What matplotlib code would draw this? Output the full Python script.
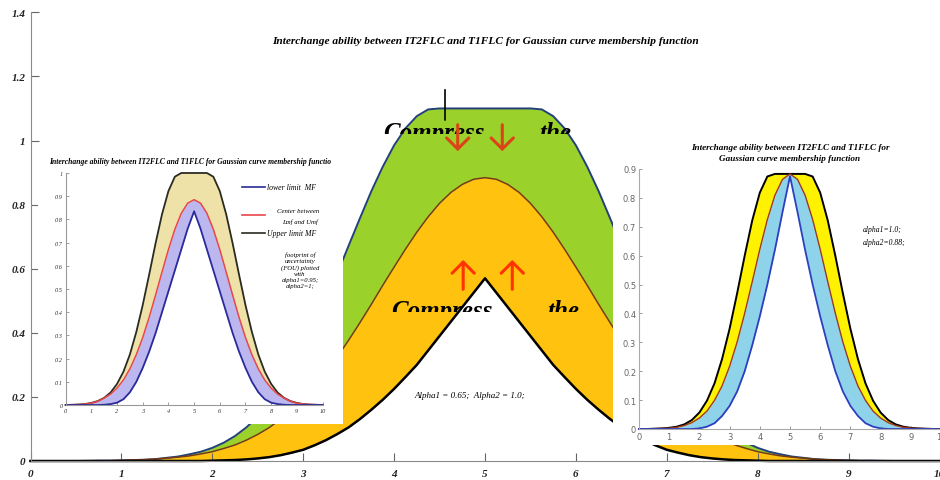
import matplotlib
matplotlib.use('Agg')
import matplotlib.pyplot as plt
from matplotlib.patches import Rectangle
from matplotlib.lines import Line2D
from matplotlib.transforms import Affine2D, Bbox, TransformedBbox

# main chart x grid (finer near the peak)
main_x = [0, 0.5, 0.75, 0.875, 1, 1.125, 1.25, 1.375, 1.5, 1.625, 1.75, 1.875, 2, 2.125,
          2.25, 2.375, 2.5, 2.625, 2.75, 2.875, 3, 3.125, 3.25, 3.375, 3.5, 3.625, 3.75,
          3.875, 4, 4.125, 4.25, 4.375, 4.5, 4.625, 4.75, 4.875, 5, 5.125, 5.25, 5.375,
          5.5, 5.625, 5.75, 5.875, 6, 6.125, 6.25, 6.375, 6.5, 6.625, 6.75, 6.875, 7,
          7.125, 7.25, 7.375, 7.5, 7.625, 7.75, 7.875, 8, 8.125, 8.25, 8.375, 8.5, 8.625,
          8.75, 8.875, 9, 9.125, 9.25, 9.5, 10]

# main chart: alpha1 = 0.65, alpha2 = 1.0
main_upper = [0, 0,
              0.001, 0.001, 0.002, 0.003, 0.004, 0.006, 0.010, 0.014, 0.021, 0.029,
              0.041, 0.057, 0.078, 0.105, 0.138, 0.178, 0.227, 0.284, 0.349, 0.422,
              0.501, 0.585, 0.672, 0.758, 0.842, 0.918, 0.985, 1.038, 1.076, 1.097,
              1.1, 1.1, 1.1, 1.1,
              1.1,
              1.1, 1.1, 1.1, 1.1,
              1.097, 1.076, 1.038, 0.985, 0.918, 0.842, 0.758, 0.672, 0.585, 0.501,
              0.422, 0.349, 0.284, 0.227, 0.178, 0.138, 0.105, 0.078, 0.057, 0.041,
              0.029, 0.021, 0.014, 0.010, 0.006, 0.004, 0.003, 0.002, 0.001, 0.001,
              0, 0]
main_center = [0, 0,
               0.001, 0.001, 0.002, 0.003, 0.004, 0.006, 0.009, 0.012, 0.016, 0.022,
               0.029, 0.039, 0.050, 0.065, 0.083, 0.104, 0.130, 0.160, 0.194, 0.233,
               0.277, 0.325, 0.377, 0.432, 0.489, 0.548, 0.605, 0.661, 0.714, 0.762,
               0.804, 0.838, 0.863, 0.879,
               0.884,
               0.879, 0.863, 0.838, 0.804,
               0.762, 0.714, 0.661, 0.605, 0.548, 0.489, 0.432, 0.377, 0.325, 0.277,
               0.233, 0.194, 0.160, 0.130, 0.104, 0.083, 0.065, 0.050, 0.039, 0.029,
               0.022, 0.016, 0.012, 0.009, 0.006, 0.004, 0.003, 0.002, 0.001, 0.001,
               0, 0]
main_lower = [0, 0,
              0, 0, 0, 0, 0, 0, 0, 0, 0, 0,
              0.001, 0.002, 0.003, 0.005, 0.008, 0.012, 0.018, 0.026, 0.035, 0.049,
              0.065, 0.084, 0.105, 0.131, 0.160, 0.191, 0.225, 0.262, 0.300, 0.345,
              0.390, 0.435, 0.480, 0.525,
              0.570,
              0.525, 0.480, 0.435, 0.390,
              0.345, 0.300, 0.262, 0.225, 0.191, 0.160, 0.131, 0.105, 0.084, 0.065,
              0.049, 0.035, 0.026, 0.018, 0.012, 0.008, 0.005, 0.003, 0.002, 0.001,
              0, 0, 0, 0, 0, 0, 0, 0, 0, 0,
              0, 0]

# inset x grid (0..10)
x = [0, 0.25, 0.5, 0.75, 1, 1.25, 1.5, 1.75, 2, 2.25, 2.5, 2.75, 3, 3.25, 3.5, 3.75,
     4, 4.25, 4.5, 4.75, 5, 5.25, 5.5, 5.75, 6, 6.25, 6.5, 6.75, 7, 7.25, 7.5, 7.75,
     8, 8.25, 8.5, 8.75, 9, 9.25, 9.5, 9.75, 10]

# left inset: alpha1 = 0.95, alpha2 = 1
left_upper = [0, 0.001, 0.002, 0.004, 0.009, 0.017, 0.031, 0.054, 0.091, 0.144, 0.218, 0.315,
              0.431, 0.562, 0.697, 0.822, 0.922, 0.984, 1.0, 1.0, 1.0, 1.0, 1.0, 0.984, 0.922,
              0.822, 0.697, 0.562, 0.431, 0.315, 0.218, 0.144, 0.091, 0.054, 0.031, 0.017,
              0.009, 0.004, 0.002, 0.001, 0]
left_center = [0, 0.001, 0.002, 0.004, 0.008, 0.016, 0.030, 0.047, 0.073, 0.108, 0.156, 0.217,
               0.291, 0.378, 0.474, 0.573, 0.670, 0.757, 0.826, 0.870, 0.885, 0.870, 0.826,
               0.757, 0.670, 0.573, 0.474, 0.378, 0.291, 0.217, 0.156, 0.108, 0.073, 0.047,
               0.030, 0.016, 0.008, 0.004, 0.002, 0.001, 0]
left_lower = [0, 0, 0, 0, 0, 0, 0.001, 0.004, 0.010, 0.025, 0.055, 0.100, 0.160, 0.230, 0.310,
              0.400, 0.490, 0.580, 0.670, 0.760, 0.835, 0.760, 0.670, 0.580, 0.490, 0.400,
              0.310, 0.230, 0.160, 0.100, 0.055, 0.025, 0.010, 0.004, 0.001, 0, 0, 0, 0, 0, 0]

# right inset: alpha1 = 1.0, alpha2 = 0.88
right_upper = [0, 0, 0.001, 0.002, 0.004, 0.008, 0.016, 0.031, 0.057, 0.098, 0.158, 0.242,
               0.347, 0.470, 0.600, 0.722, 0.818, 0.874, 0.883, 0.883, 0.883, 0.883, 0.883,
               0.874, 0.818, 0.722, 0.600, 0.470, 0.347, 0.242, 0.158, 0.098, 0.057, 0.031,
               0.016, 0.008, 0.004, 0.002, 0.001, 0, 0]
right_center = [0, 0, 0.001, 0.002, 0.003, 0.006, 0.012, 0.022, 0.038, 0.062, 0.099, 0.149,
                0.217, 0.301, 0.401, 0.510, 0.622, 0.725, 0.809, 0.864, 0.883, 0.864, 0.809,
                0.725, 0.622, 0.510, 0.401, 0.301, 0.217, 0.149, 0.099, 0.062, 0.038, 0.022,
                0.012, 0.006, 0.003, 0.002, 0.001, 0, 0]
right_lower = [0, 0, 0, 0, 0, 0, 0, 0, 0.002, 0.008, 0.020, 0.045, 0.080, 0.130, 0.200, 0.290,
               0.390, 0.500, 0.620, 0.750, 0.875, 0.750, 0.620, 0.500, 0.390, 0.290, 0.200,
               0.130, 0.080, 0.045, 0.020, 0.008, 0.002, 0, 0, 0, 0, 0, 0, 0, 0]

main_yticks = [0, 0.2, 0.4, 0.6, 0.8, 1.0, 1.2, 1.4]
main_ylabels = ['0', '0.2', '0.4', '0.6', '0.8', '1', '1.2', '1.4']
inset_yticks = [0, 0.1, 0.2, 0.3, 0.4, 0.5, 0.6, 0.7, 0.8, 0.9, 1.0]
inset_ylabels = ['0', '0.1', '0.2', '0.3', '0.4', '0.5', '0.6', '0.7', '0.8', '0.9', '1']
xticks = list(range(11))

title = 'Interchange ability between IT2FLC and T1FLC for Gaussian curve membership function'
SERIF = 'Liberation Serif'

fig = plt.figure(figsize=(9.4, 4.81), dpi=100)
# pixel coordinates (origin top-left) for the pasted-on pieces
px = Affine2D().scale(1 / 940, -1 / 481).translate(0, 1) + fig.transFigure

# ---------------- main chart ----------------
ax = fig.add_axes([30.5 / 940, 19 / 481, 909 / 940, 448.7 / 481], zorder=0)
ax.set_xlim(0, 10)
ax.set_ylim(0, 1.4)
ax.fill_between(main_x, main_lower, main_center, color='#ffc20e', lw=0)
ax.fill_between(main_x, main_center, main_upper, color='#9bd12b', lw=0)
ax.plot(main_x, main_upper, color='#23407a', lw=1.4, clip_on=False)
ax.plot(main_x, main_center, color='#7a3b12', lw=1.1, clip_on=False)
ax.plot(main_x, main_lower, color='black', lw=1.8, clip_on=False)

for s in ['top', 'right']:
    ax.spines[s].set_visible(False)
for s in ['left', 'bottom']:
    ax.spines[s].set_color('#8a8a8a')
ax.set_xticks(xticks)
ax.set_xticklabels([str(t) for t in xticks])
ax.set_yticks(main_yticks)
ax.set_yticklabels(main_ylabels)
ax.tick_params(direction='in', length=6, width=0.8, color='#666', labelsize=8)
ax.tick_params(axis='x', pad=6)
for lab in ax.get_xticklabels() + ax.get_yticklabels():
    lab.set_fontfamily(SERIF)
    lab.set_style('italic')
    lab.set_weight('bold')
    lab.set_color('#222')

ax.text(5.0, 1.313, title, ha='center', va='center', fontsize=8.2,
        family=SERIF, style='italic', weight='bold')
ax.text(4.83, 0.206, 'Alpha1 = 0.65;  Alpha2 = 1.0;', ha='center', va='center',
        fontsize=6.5, family=SERIF, style='italic')

# big "Compress ... the" captions, lower half cut away
for y0, cut, xs in [(1.005, 1.02, (3.88, 5.6)), (0.449, 0.465, (3.97, 5.69))]:
    box = TransformedBbox(Bbox([[0, cut], [10, 1.4]]), ax.transData)
    for xx, word in zip(xs, ['Compress', 'the']):
        t = ax.text(xx, y0, word, fontsize=18, family=SERIF, style='italic',
                    weight='bold', va='baseline', ha='left')
        t.set_clip_on(True)
        t.set_clip_path(None)
        t.set_clip_box(box)

ax.annotate('', xy=(4.56, 1.055), xytext=(4.56, 1.167),
            arrowprops=dict(arrowstyle='-', color='black', lw=1.2))
for xx in [4.70, 5.19]:
    ax.annotate('', xy=(xx, 0.958), xytext=(xx, 1.058),
                arrowprops=dict(arrowstyle='->,head_length=0.4,head_width=0.4',
                                mutation_scale=20, color='#dc4317', lw=2.2))
for xx in [4.76, 5.30]:
    ax.annotate('', xy=(xx, 0.636), xytext=(xx, 0.527),
                arrowprops=dict(arrowstyle='->,head_length=0.4,head_width=0.4',
                                mutation_scale=20, color='#ff3300', lw=2.2))

# white patches the insets were pasted on
fig.add_artist(Rectangle((38, 150), 305, 275, transform=px, facecolor='white',
                         edgecolor='none', zorder=1))
fig.add_artist(Rectangle((613, 125), 330, 321, transform=px, facecolor='white',
                         edgecolor='none', zorder=1))

# ---------------- left inset ----------------
axl = fig.add_axes([65.7 / 940, 75 / 481, 256.8 / 940, 232 / 481], zorder=2)
axl.patch.set_visible(False)
axl.set_xlim(0, 10)
axl.set_ylim(0, 1)
axl.fill_between(x, left_center, left_upper, color='#efe2a8', lw=0)
axl.fill_between(x, left_lower, left_center, color='#bdb7f0', lw=0)
axl.plot(x, left_upper, color='#2b2b22', lw=1.3, clip_on=False)
axl.plot(x, left_center, color='#e8474a', lw=1.1, clip_on=False)
axl.plot(x, left_lower, color='#2a2a9a', lw=1.3, clip_on=False)
for s in ['top', 'right']:
    axl.spines[s].set_visible(False)
for s in ['left', 'bottom']:
    axl.spines[s].set_color('#999')
    axl.spines[s].set_linewidth(0.8)
axl.set_xticks(xticks)
axl.set_xticklabels([str(t) for t in xticks])
axl.set_yticks(inset_yticks)
axl.set_yticklabels(inset_ylabels)
axl.tick_params(direction='in', length=2, width=0.5, color='#777', labelsize=4.5, pad=2)
for lab in axl.get_xticklabels() + axl.get_yticklabels():
    lab.set_fontfamily(SERIF)
    lab.set_style('italic')
    lab.set_color('#333')

fig.text(190, 162, title[:-1], transform=px, ha='center', va='center', fontsize=5.5,
         family=SERIF, style='italic', weight='bold', zorder=3)
leg_font = dict(transform=px, family=SERIF, style='italic', zorder=3)
fig.add_artist(Line2D([242, 265], [188, 188], transform=px, color='#2a2a9a', lw=1.2, zorder=3))
fig.text(267, 188, 'lower limit  MF', ha='left', va='center', fontsize=5.6, **leg_font)
fig.add_artist(Line2D([242, 265], [216, 216], transform=px, color='#e8474a', lw=1.2, zorder=3))
fig.text(298, 212, 'Center between', ha='center', va='center', fontsize=4.9, **leg_font)
fig.text(300, 222, 'Lmf and Umf', ha='center', va='center', fontsize=4.9, **leg_font)
fig.add_artist(Line2D([242, 265], [234, 234], transform=px, color='#2b2b22', lw=1.2, zorder=3))
fig.text(267, 234, 'Upper limit MF', ha='left', va='center', fontsize=5.6, **leg_font)
fig.text(300, 271, 'footprint of\nuncertainty\n(FOU) plotted\nwith\nalpha1=0.95;\nalpha2=1;',
         ha='center', va='center', linespacing=1.25, fontsize=4.8, **leg_font)

# ---------------- right inset ----------------
axr = fig.add_axes([639 / 940, 51 / 481, 302 / 940, 260 / 481], zorder=2)
axr.patch.set_visible(False)
axr.set_xlim(0, 10)
axr.set_ylim(0, 0.9)
axr.fill_between(x, right_center, right_upper, color='#fff200', lw=0)
axr.fill_between(x, right_lower, right_center, color='#8fd3ea', lw=0)
axr.plot(x, right_upper, color='black', lw=1.4, clip_on=False)
axr.plot(x, right_center, color='#a0381c', lw=1.0, clip_on=False)
axr.plot(x, right_lower, color='#2b3fc0', lw=1.3, clip_on=False)
for s in ['top', 'right']:
    axr.spines[s].set_visible(False)
for s in ['left', 'bottom']:
    axr.spines[s].set_color('#aaa')
axr.set_xticks(xticks)
axr.set_xticklabels([str(t) for t in xticks])
axr.set_yticks(inset_yticks[:-1])
axr.set_yticklabels(inset_ylabels[:-1])
axr.tick_params(direction='in', length=2.5, width=0.6, color='#888', labelsize=6,
                labelcolor='#666', pad=2)

fig.text(790, 148, 'Interchange ability between IT2FLC and T1FLC for', transform=px,
         ha='center', va='center', fontsize=6.6, family=SERIF, style='italic', weight='bold', zorder=3)
fig.text(790, 159, 'Gaussian curve membership function', transform=px,
         ha='center', va='center', fontsize=6.6, family=SERIF, style='italic', weight='bold', zorder=3)
fig.text(863, 230, 'alpha1=1.0;', transform=px, ha='left', va='center', fontsize=5.5,
         family=SERIF, style='italic', zorder=3)
fig.text(863, 243, 'alpha2=0.88;', transform=px, ha='left', va='center', fontsize=5.5,
         family=SERIF, style='italic', zorder=3)

fig.savefig('out.png', dpi=100)
